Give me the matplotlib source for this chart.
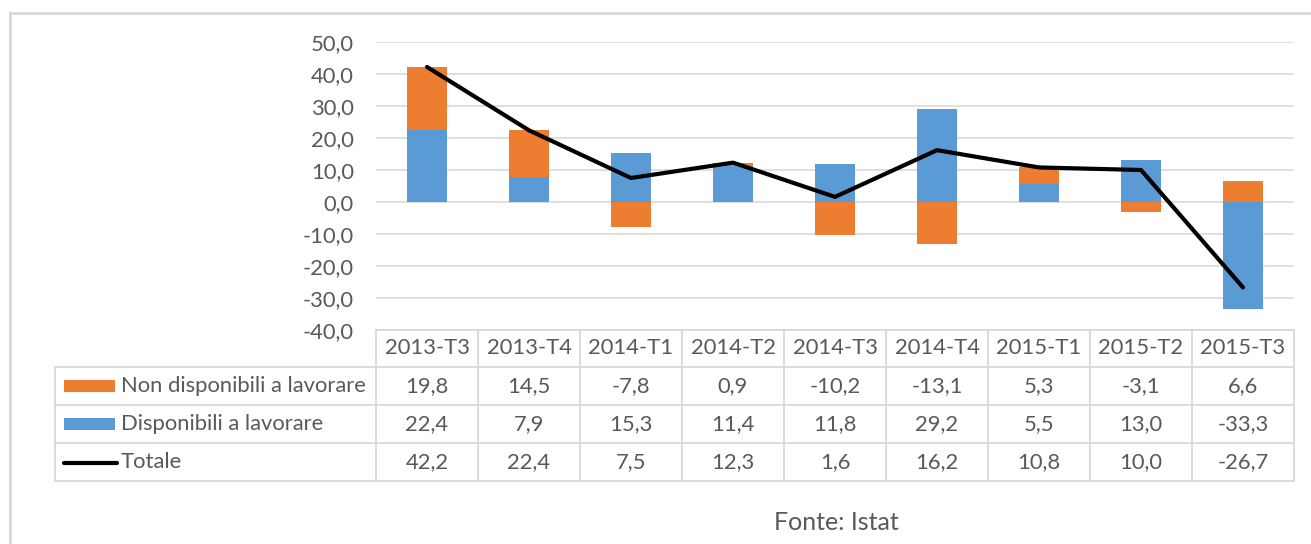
import matplotlib
matplotlib.use("Agg")
import matplotlib.pyplot as plt
from matplotlib.transforms import blended_transform_factory
from matplotlib.lines import Line2D
from matplotlib.patches import Rectangle
import numpy as np

categories = ["2013-T3", "2013-T4", "2014-T1", "2014-T2", "2014-T3",
              "2014-T4", "2015-T1", "2015-T2", "2015-T3"]
non_disponibili = [19.8, 14.5, -7.8, 0.9, -10.2, -13.1, 5.3, -3.1, 6.6]
disponibili = [22.4, 7.9, 15.3, 11.4, 11.8, 29.2, 5.5, 13.0, -33.3]
totale = [42.2, 22.4, 7.5, 12.3, 1.6, 16.2, 10.8, 10.0, -26.7]
series_names = ["Non disponibili a lavorare", "Disponibili a lavorare", "Totale"]
yticks = [-40, -30, -20, -10, 0, 10, 20, 30, 40, 50]
source = "Fonte: Istat"

ORANGE = "#ED7D31"
BLUE = "#5B9BD5"
GRID = "#D9D9D9"
TXT = "#595959"
FONT = "Lato"
FS = 15.8

W, H = 1311, 544
fig = plt.figure(figsize=(W / 100, H / 100), dpi=100)
fig.patch.set_facecolor("white")

def fx(px):
    return px / W

def fy(py):
    return 1 - py / H

L, R, T, B = 376, 1294, 42, 330
ax = fig.add_axes([fx(L), fy(B), fx(R) - fx(L), fy(T) - fy(B)])
x = np.arange(len(categories))
bw = 0.4

d = np.array(disponibili)
n = np.array(non_disponibili)
# stacking: positives stack upward, negatives downward
d_bottom = np.zeros_like(d)
pos_top = np.where(d > 0, d, 0.0)
neg_bot = np.where(d < 0, d, 0.0)
n_bottom = np.where(n >= 0, pos_top, neg_bot)

ax.bar(x, d, bw, bottom=d_bottom, color=BLUE, zorder=2, linewidth=0)
ax.bar(x, n, bw, bottom=n_bottom, color=ORANGE, zorder=2, linewidth=0)
ax.plot(x, totale, color="black", lw=3.0, zorder=3, solid_capstyle="round",
        solid_joinstyle="round")

ax.set_xlim(-0.5, len(categories) - 0.5)
ax.set_ylim(-40, 50)
ax.set_yticks(yticks)
ax.set_yticklabels([f"{v:.1f}".replace(".", ",") for v in yticks],
                   fontsize=FS, color=TXT, family=FONT)
ax.tick_params(axis="y", length=0, pad=16)
ax.set_xticks([])
for s in ax.spines.values():
    s.set_visible(False)
ax.grid(axis="y", color=GRID, lw=1.2, zorder=0)
ax.set_axisbelow(True)

# data table
tr = blended_transform_factory(ax.transData, fig.transFigure)
row_edges = [330, 367, 405, 443, 481]
tab_left = 55
lkw = dict(color=GRID, lw=1.3, zorder=1)
# horizontal lines
fig.add_artist(Line2D([fx(L), fx(R)], [fy(row_edges[0])] * 2, transform=fig.transFigure, **lkw))
for ry in row_edges[1:]:
    fig.add_artist(Line2D([fx(tab_left), fx(R)], [fy(ry)] * 2, transform=fig.transFigure, **lkw))
# vertical lines
for i in range(len(categories) + 1):
    fig.add_artist(Line2D([i - 0.5, i - 0.5], [fy(row_edges[0]), fy(row_edges[-1])],
                          transform=tr, **lkw))
fig.add_artist(Line2D([fx(tab_left)] * 2, [fy(row_edges[1]), fy(row_edges[-1])],
                      transform=fig.transFigure, **lkw))

tkw = dict(fontsize=FS, color=TXT, family=FONT, ha="center", va="center")
rows = [non_disponibili, disponibili, totale]
for i, c in enumerate(categories):
    fig.text(i, fy((row_edges[0] + row_edges[1]) / 2), c, transform=tr, **tkw)
    for r, vals in enumerate(rows):
        yc = fy((row_edges[r + 1] + row_edges[r + 2]) / 2)
        fig.text(i, yc, f"{vals[i]:.1f}".replace(".", ","), transform=tr, **tkw)

# legend keys
for r, name in enumerate(series_names):
    yc = (row_edges[r + 1] + row_edges[r + 2]) / 2
    if r < 2:
        col = [ORANGE, BLUE][r]
        fig.add_artist(Rectangle((fx(64), fy(yc + 6)), fx(115) - fx(64), fy(yc - 6) - fy(yc + 6),
                                 transform=fig.transFigure, color=col, lw=0))
    else:
        fig.add_artist(Line2D([fx(64), fx(117)], [fy(yc + 1)] * 2, transform=fig.transFigure,
                              color="black", lw=3.0, solid_capstyle="round"))
    fig.text(fx(121), fy(yc), name, fontsize=FS, color=TXT, family=FONT,
             ha="left", va="center")

fig.text(fx(836), fy(522), source, fontsize=18, color=TXT, family=FONT,
         ha="center", va="center")

# outer chart border
fig.add_artist(Line2D([fx(10), 1.0], [fy(13)] * 2, transform=fig.transFigure, color=GRID, lw=2))
fig.add_artist(Line2D([fx(10)] * 2, [fy(13), 0.0], transform=fig.transFigure, color=GRID, lw=2))

fig.savefig("out.png", dpi=100, facecolor="white")
